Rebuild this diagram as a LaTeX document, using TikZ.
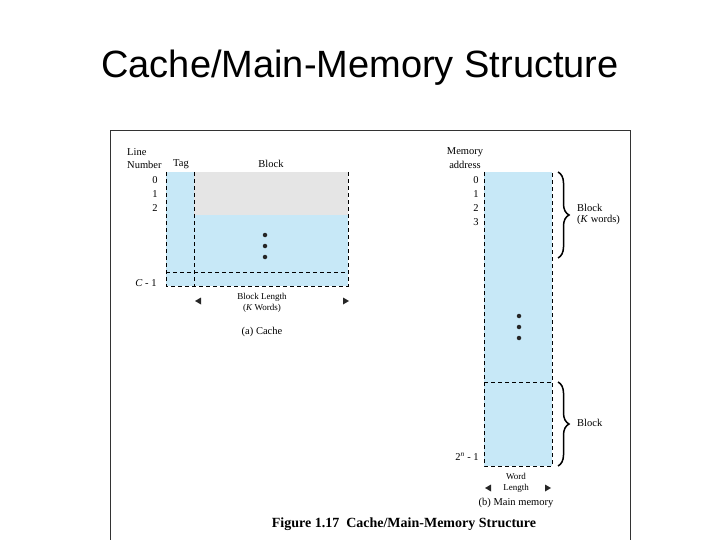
\documentclass[tikz,border=0pt]{standalone}
\usepackage{fontspec}
\setmainfont{Liberation Serif}
\newfontfamily\titlefont{Liberation Sans}
\usetikzlibrary{decorations.pathreplacing}
\definecolor{cblue}{RGB}{199,232,247}
\definecolor{cgrey}{RGB}{229,229,229}
\tikzset{
  lbl/.style={inner sep=0pt, font=\fontsize{10.5}{11}\selectfont},
  sm/.style={inner sep=0pt, font=\fontsize{9}{10}\selectfont},
  dline/.style={dash pattern=on 4pt off 3pt, line width=0.8pt},
  brc/.style={decorate, decoration={brace, amplitude=11pt}, line width=1.5pt},
  dot/.style={circle, fill=black!85, inner sep=0pt, minimum size=4.5pt},
  tip/.style={fill=black!85}
}
\begin{document}
\begin{tikzpicture}[x=1pt,y=-1pt]
\useasboundingbox (0,0) rectangle (720,540);
% title
\node[inner sep=0pt, font=\titlefont\fontsize{38}{40}\selectfont] (title) at (360,68) {Cache/Main-Memory Structure};
% frame
\draw[line width=1pt, black!80] (110,545) -- (110,131) -- (630,131) -- (630,545);
% ---- cache ----
\fill[cblue] (166,172) rectangle (348,286);
\fill[cgrey] (194,172) rectangle (348,215);
\draw[dline] (166,172) -- (166,286) -- (348,286) -- (348,172);
\draw[dline] (194,172) -- (194,286);
\draw[dline] (166,272.5) -- (348,272.5);
\node[dot] (cd1) at (265,235) {};
\node[dot] (cd2) at (265,246) {};
\node[dot] (cd3) at (265,257) {};
\node[lbl, anchor=west] (line) at (127,152) {Line};
\node[lbl, anchor=west] (number) at (127,165) {Number};
\node[lbl] (tag) at (181,164) {Tag};
\node[lbl] (block) at (271,164) {Block};
\node[lbl] (c0) at (155,180) {0};
\node[lbl] (c1) at (155,194) {1};
\node[lbl] (c2) at (155,208) {2};
\node[lbl] (cc) at (146,283) {\textit{C} - 1};
\fill[tip] (195,301) -- (201,297.5) -- (201,304.5) -- cycle;
\fill[tip] (349,301) -- (343,297.5) -- (343,304.5) -- cycle;
\node[sm] (bl1) at (262,297) {Block Length};
\node[sm] (bl2) at (262,308) {(\textit{K} Words)};
\node[lbl] (capa) at (262,332) {(a) Cache};
% ---- main memory ----
\fill[cblue] (484,172) rectangle (552,466);
\draw[dline] (484,172) -- (484,466) -- (552,466) -- (552,172);
\draw[dline] (484,382) -- (552,382);
\node[dot] (md1) at (519,316) {};
\node[dot] (md2) at (519,327) {};
\node[dot] (md3) at (519,338) {};
\node[lbl] (mem) at (465,152) {Memory};
\node[lbl] (addr) at (465,165) {address};
\node[lbl] (m0) at (476,180) {0};
\node[lbl] (m1) at (476,194) {1};
\node[lbl] (m2) at (476,208) {2};
\node[lbl] (m3) at (476,222) {3};
\node[lbl] (mn) at (467,457) {2\textsuperscript{\textit{n}} - 1};
\draw[brc] (558,172) -- (558,258);
\draw[brc] (558,382) -- (558,466);
\node[lbl, anchor=west] (blk1) at (577,208) {Block};
\node[lbl, anchor=west] (blk2) at (577,220) {(\textit{K} words)};
\node[lbl, anchor=west] (blk3) at (577,423) {Block};
\fill[tip] (485,488) -- (491,484.5) -- (491,491.5) -- cycle;
\fill[tip] (551,488) -- (545,484.5) -- (545,491.5) -- cycle;
\node[sm] (wl1) at (516,476) {Word};
\node[sm] (wl2) at (516,488) {Length};
\node[lbl] (capb) at (516,503) {(b) Main memory};
\node[inner sep=0pt, font=\bfseries\fontsize{14}{15}\selectfont] (fig) at (404,524) {Figure 1.17\ \ Cache/Main-Memory Structure};
\end{tikzpicture}
\end{document}
